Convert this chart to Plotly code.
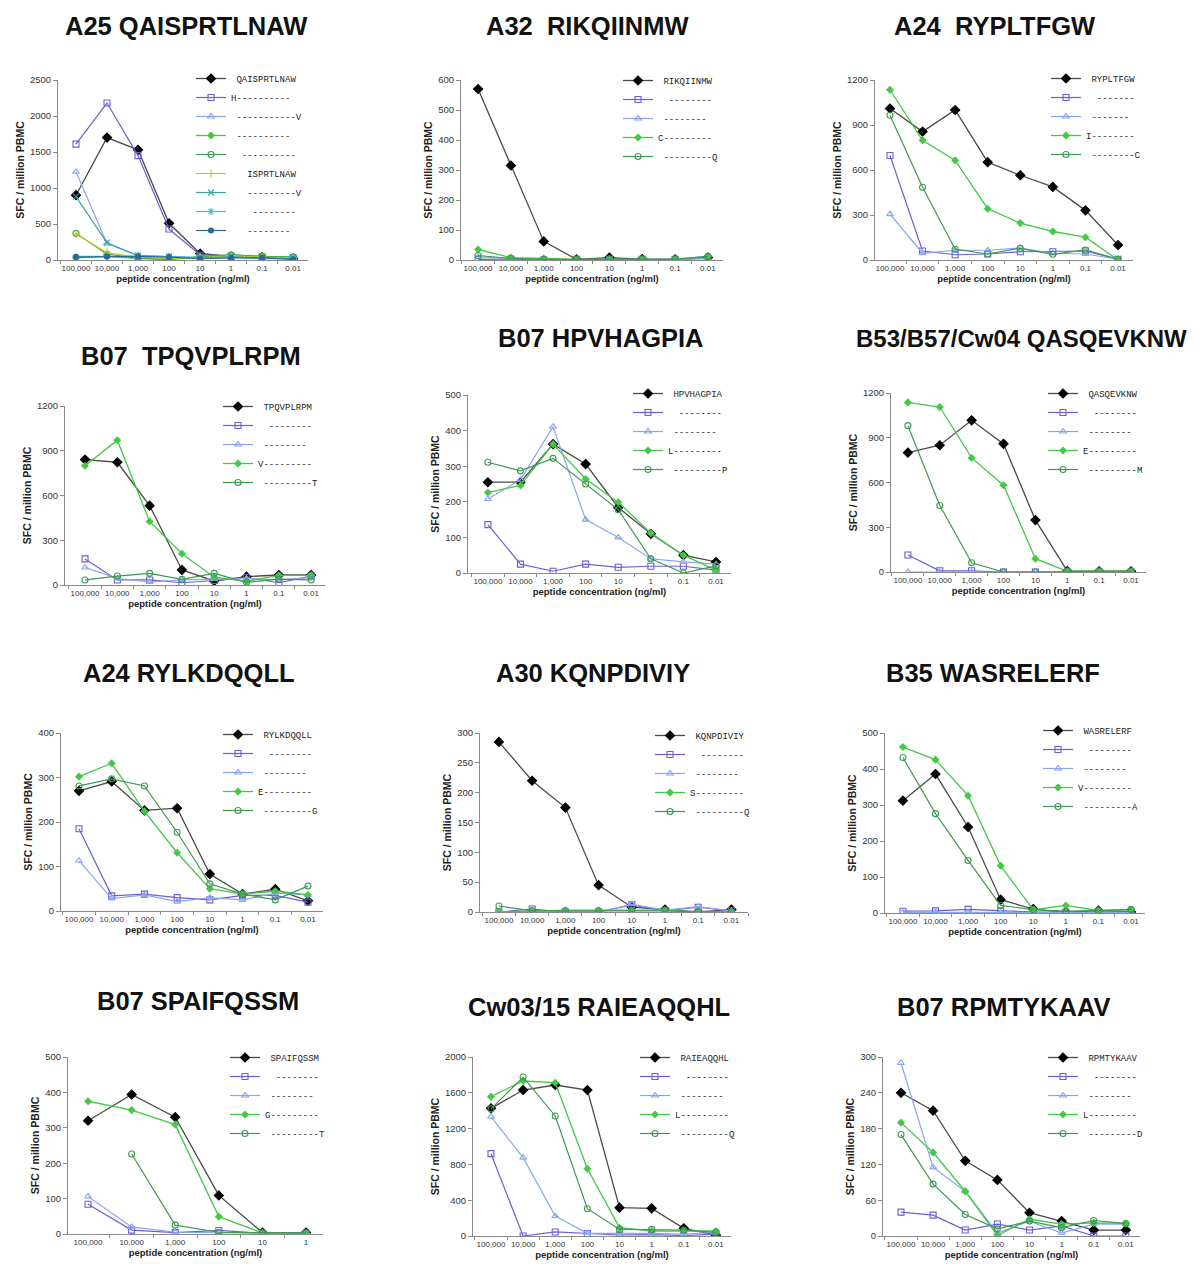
import plotly.graph_objects as go

# ---------------- data ----------------
conc8 = ["100,000", "10,000", "1,000", "100", "10", "1", "0.1", "0.01"]
conc6 = ["100,000", "10,000", "1,000", "100", "10", "1"]

titles = ["A25 QAISPRTLNAW", "A32\u00a0 RIKQIINMW", "A24\u00a0 RYPLTFGW",
          "B07\u00a0 TPQVPLRPM", "B07 HPVHAGPIA", "B53/B57/Cw04 QASQEVKNW",
          "A24 RYLKDQQLL", "A30 KQNPDIVIY", "B35 WASRELERF",
          "B07 SPAIFQSSM", "Cw03/15 RAIEAQQHL", "B07 RPMTYKAAV"]

# Panel 1: A25 QAISPRTLNAW (9 series)
a25_names = [" QAISPRTLNAW", "H----------", " -----------V", " ----------", "  ----------",
             "   ISPRTLNAW", "   ---------V", "    --------", "   --------"]
a25_wt = [900, 1700, 1530, 510, 90, 50, 40, 20]
a25_h = [1610, 2180, 1450, 430, 70, 50, 40, 30]
a25_v = [1225, 230, 60, 50, 30, 40, 30, 20]
a25_m4 = [30, 50, 20, 10, 50, 70, 50, 40]
a25_m5 = [370, 80, 30, 10, 40, 70, 50, 40]
a25_isp = [360, 100, 40, 20, 30, 60, 40, 30]
a25_ispv = [880, 240, 60, 50, 30, 40, 30, 20]
a25_m8 = [50, 50, 60, 50, 30, 40, 20, 20]
a25_m9 = [40, 50, 50, 40, 20, 30, 30, 10]

# Panel 2: A32 RIKQIINMW
a32_names = [" RIKQIINMW", "  --------", " --------", "C---------", " ---------Q"]
a32_wt = [570, 315, 62, 2, 8, 3, 2, 8]
a32_m2 = [2, 3, 0, 2, 2, 2, 2, 5]
a32_m3 = [10, 5, 2, 0, 0, 0, 2, 5]
a32_c = [35, 8, 5, 2, 3, 2, 2, 12]
a32_q = [15, 5, 2, 2, 3, 2, 3, 12]

# Panel 3: A24 RYPLTFGW
a24a_names = [" RYPLTFGW", "  -------", " -------", "I--------", " --------C"]
a24a_wt = [1010, 856, 1000, 652, 565, 487, 331, 100]
a24a_m2 = [697, 60, 35, 40, 55, 55, 60, 5]
a24a_m3 = [306, 45, 65, 65, 80, 45, 40, 5]
a24a_i = [1135, 798, 664, 342, 246, 190, 152, 0]
a24a_c = [965, 485, 72, 40, 78, 38, 67, 5]

# Panel 4: B07 TPQVPLRPM
b07a_names = [" TPQVPLRPM", "  --------", " --------", "V---------", " ---------T"]
b07a_wt = [841, 823, 532, 101, 27, 56, 67, 67]
b07a_m2 = [175, 34, 34, 15, 30, 50, 15, 60]
b07a_m3 = [117, 45, 20, 35, 40, 45, 35, 50]
b07a_v = [800, 971, 426, 209, 52, 25, 65, 65]
b07a_t = [34, 60, 78, 38, 78, 18, 40, 34]

# Panel 5: B07 HPVHAGPIA
b07b_names = [" HPVHAGPIA", "  --------", " --------", "L---------", " ---------P"]
b07b_wt = [255, 255, 362, 306, 184, 110, 50, 31]
b07b_m2 = [136, 25, 5, 25, 16, 19, 19, 8]
b07b_m3 = [208, 262, 411, 150, 100, 40, 31, 25]
b07b_l = [226, 246, 362, 264, 199, 112, 50, 8]
b07b_p = [311, 287, 322, 250, 178, 40, 0, 20]

# Panel 6: B53/B57/Cw04 QASQEVKNW
b53_names = [" QASQEVKNW", "  --------", " --------", "E---------", " ---------M"]
b53_wt = [800, 850, 1017, 859, 348, 7, 5, 5]
b53_m2 = [114, 8, 8, 0, 0, 0, 0, 0]
b53_m3 = [0, 0, 0, 0, 0, 0, 0, 0]
b53_e = [1137, 1106, 765, 582, 89, 5, 5, 5]
b53_m = [981, 446, 62, 0, 0, 5, 5, 5]

# Panel 7: A24 RYLKDQQLL
a24b_names = [" RYLKDQQLL", "  --------", " --------", "E---------", " ---------G"]
a24b_wt = [270, 291, 226, 231, 83, 38, 49, 23]
a24b_m2 = [185, 34, 38, 30, 25, 35, 35, 20]
a24b_m3 = [113, 28, 36, 21, 30, 25, 40, 36]
a24b_e = [302, 332, 224, 131, 50, 38, 45, 36]
a24b_g = [281, 297, 281, 177, 61, 38, 25, 56]

# Panel 8: A30 KQNPDIVIY
a30_names = [" KQNPDIVIY", "  --------", " --------", "S---------", " ---------Q"]
a30_wt = [285, 220, 175, 45, 8, 4, 0, 4]
a30_m2 = [0, 5, 0, 0, 12, 2, 8, 2]
a30_m3 = [0, 0, 0, 0, 13, 3, 9, 2]
a30_s = [0, 2, 3, 3, 3, 3, 0, 0]
a30_q = [10, 2, 2, 2, 2, 2, 0, 0]

# Panel 9: B35 WASRELERF
b35_names = [" WASRELERF", "  --------", " --------", "V---------", " ---------A"]
b35_wt = [312, 386, 239, 37, 11, 2, 7, 3]
b35_m2 = [5, 6, 10, 6, 3, 2, 2, 3]
b35_m3 = [2, 3, 2, 2, 2, 2, 2, 2]
b35_v = [461, 426, 326, 131, 9, 21, 7, 9]
b35_a = [432, 276, 146, 21, 9, 5, 7, 10]

# Panel 10: B07 SPAIFQSSM (6 concentrations)
b07c_names = [" SPAIFQSSM", "  --------", " --------", "G---------", " ---------T"]
b07c_wt = [320, 394, 330, 109, 4, 4]
b07c_m2 = [84, 11, 4, 10, 2, 2]
b07c_m3 = [106, 20, 5, 3, 2, 2]
b07c_g = [375, 350, 309, 49, 3, 2]
b07c_t = [None, 226, 25, 5, 3, 3]

# Panel 11: Cw03/15 RAIEAQQHL
cw03_names = [" RAIEAQQHL", "  --------", " --------", "L---------", " ---------Q"]
cw03_wt = [1426, 1631, 1687, 1631, 317, 309, 86, 11]
cw03_m2 = [920, 0, 45, 26, 11, 15, 5, 20]
cw03_m3 = [1333, 875, 223, 30, 30, 30, 20, 40]
cw03_l = [1557, 1732, 1713, 752, 93, 56, 56, 56]
cw03_q = [1420, 1776, 1341, 305, 74, 74, 67, 40]

# Panel 12: B07 RPMTYKAAV
b07d_names = [" RPMTYKAAV", "  --------", " --------", "L---------", " ---------D"]
b07d_wt = [240, 210, 126, 94, 39, 25, 10, 10]
b07d_m2 = [40, 35, 10, 20, 10, 17, 0, 0]
b07d_m3 = [290, 115, 75, 5, 25, 5, 20, 20]
b07d_l = [190, 140, 75, 1, 28, 20, 22, 21]
b07d_d = [170, 87, 36, 12, 25, 14, 26, 21]

y_max = [2500, 600, 1200, 1200, 500, 1200, 400, 300, 500, 500, 2000, 300]
y_dtick = [500, 100, 300, 300, 100, 300, 100, 50, 100, 100, 400, 60]

# ---------------- styles / layout geometry ----------------
STY = {
    "wt": dict(symbol="diamond", size=7, color="#000000", line="#4a4a4a", lw=1.3),
    "sq": dict(symbol="square-open", size=6, color="#6b5fd8", line="#6b5fd8", lw=1.2),
    "tri": dict(symbol="triangle-up-open", size=6, color="#8aa6f0", line="#8aa6f0", lw=1.2),
    "grn": dict(symbol="diamond", size=5, color="#45c845", line="#45c845", lw=1.3),
    "circ": dict(symbol="circle-open", size=6, color="#3c9a52", line="#3c9a52", lw=1.2),
    "ylw": dict(symbol="cross-thin-open", size=6, color="#b8cc2c", line="#b8cc2c", lw=1.2),
    "teal": dict(symbol="x-thin-open", size=6, color="#3aa3a3", line="#3aa3a3", lw=1.2),
    "cyan": dict(symbol="asterisk-open", size=6, color="#34c3dc", line="#34c3dc", lw=1.2),
    "dblue": dict(symbol="circle", size=5, color="#2e6797", line="#2e6797", lw=1.2),
}
STD5 = ["wt", "sq", "tri", "grn", "circ"]

panels = [
    (conc8, a25_names, [a25_wt, a25_h, a25_v, a25_m4, a25_m5, a25_isp, a25_ispv, a25_m8, a25_m9],
     ["wt", "sq", "tri", "grn", "circ", "ylw", "teal", "cyan", "dblue"]),
    (conc8, a32_names, [a32_wt, a32_m2, a32_m3, a32_c, a32_q], STD5),
    (conc8, a24a_names, [a24a_wt, a24a_m2, a24a_m3, a24a_i, a24a_c], STD5),
    (conc8, b07a_names, [b07a_wt, b07a_m2, b07a_m3, b07a_v, b07a_t], STD5),
    (conc8, b07b_names, [b07b_wt, b07b_m2, b07b_m3, b07b_l, b07b_p], STD5),
    (conc8, b53_names, [b53_wt, b53_m2, b53_m3, b53_e, b53_m], STD5),
    (conc8, a24b_names, [a24b_wt, a24b_m2, a24b_m3, a24b_e, a24b_g], STD5),
    (conc8, a30_names, [a30_wt, a30_m2, a30_m3, a30_s, a30_q], STD5),
    (conc8, b35_names, [b35_wt, b35_m2, b35_m3, b35_v, b35_a], STD5),
    (conc6, b07c_names, [b07c_wt, b07c_m2, b07c_m3, b07c_g, b07c_t], STD5),
    (conc8, cw03_names, [cw03_wt, cw03_m2, cw03_m3, cw03_l, cw03_q], STD5),
    (conc8, b07d_names, [b07d_wt, b07d_m2, b07d_m3, b07d_l, b07d_d], STD5),
]

W, H = 1200, 1264
# (x0, x1, ytop, ybottom) in pixels, plus category range
geom = [
    (50, 300, 72, 252, -0.58, 7.48),
    (453, 715, 72, 252, -0.52, 7.46),
    (867, 1125, 72, 252, -0.46, 7.46),
    (57, 317, 398, 577, -0.62, 7.43),
    (460, 723, 387, 565, -0.61, 7.46),
    (883, 1138, 385, 564, -0.53, 7.47),
    (53, 315, 725, 903, -0.55, 7.46),
    (472, 740, 725, 904, -0.57, 7.50),
    (877, 1137, 725, 905, -0.55, 7.43),
    (60, 315, 1049, 1226, -0.46, 5.39),
    (465, 723, 1049, 1228, -0.56, 7.47),
    (875, 1132, 1049, 1228, -0.56, 7.44),
]
title_pos = [(178, 18), (580, 18), (987, 18), (183, 348), (592, 330), (1013, 330),
             (181, 665), (585, 665), (985, 665), (190, 993), (591, 999), (995, 999)]
title_size = [25.5, 25.5, 25.5, 25.5, 25.5, 24, 25.5, 25.5, 25.5, 25.5, 25.5, 25.5]
legend_pos = [(203, 68), (630, 70), (1058, 68), (230, 396), (640, 383), (1055, 383),
              (230, 724), (662, 725), (1050, 720), (237, 1047), (647, 1047), (1055, 1047)]

fig = go.Figure()
layout = dict(
    width=W, height=H, margin=dict(l=0, r=0, t=0, b=0, autoexpand=False),
    paper_bgcolor="white", plot_bgcolor="white",
    font=dict(family="Liberation Sans, Arial, sans-serif", color="#222"),
    annotations=[],
)

AX_COL = "#8a8a8a"
for i, (cats, names, series, styles) in enumerate(panels):
    k = i + 1
    xa = "x" if k == 1 else f"x{k}"
    ya = "y" if k == 1 else f"y{k}"
    lg = "legend" if k == 1 else f"legend{k}"
    for name, vals, sk in zip(names, series, styles):
        s = STY[sk]
        fig.add_trace(go.Scatter(
            x=cats, y=vals, xaxis=xa, yaxis=ya, legend=lg,
            name=name.replace(" ", "\u00a0"), mode="lines+markers",
            line=dict(color=s["line"], width=s["lw"]),
            marker=dict(symbol=s["symbol"], size=s["size"], color=s["color"],
                        line=dict(color=s["color"], width=1.1)),
            connectgaps=False,
        ))
    x0, x1, yt, yb, r0, r1 = geom[i]
    layout["xaxis" if k == 1 else f"xaxis{k}"] = dict(
        domain=[x0 / W, x1 / W], anchor=ya, type="category",
        categoryorder="array", categoryarray=cats, range=[r0, r1],
        showline=True, linecolor=AX_COL, linewidth=1, showgrid=False, zeroline=False,
        ticks="outside", tickson="boundaries", ticklen=3, tickcolor=AX_COL,
        tickangle=0, tickfont=dict(size=8, color="#333"),
        title=dict(text="<b>peptide concentration (ng/ml)</b>", font=dict(size=9.5, color="#222"), standoff=3),
    )
    layout["yaxis" if k == 1 else f"yaxis{k}"] = dict(
        domain=[1 - yb / H, 1 - yt / H], anchor=xa, range=[0, y_max[i]], dtick=y_dtick[i],
        showline=True, linecolor=AX_COL, linewidth=1, showgrid=False, zeroline=False,
        ticks="outside", ticklen=4, tickcolor=AX_COL,
        tickfont=dict(size=9.5, color="#333"),
        title=dict(text="<b>SFC / million PBMC</b>", font=dict(size=10.5, color="#222"), standoff=3),
    )
    lx, ly = legend_pos[i]
    layout[lg] = dict(
        x=(lx - 20) / W, y=1 - (ly - 12) / H, xanchor="left", yanchor="top",
        bgcolor="rgba(0,0,0,0)", borderwidth=0, itemwidth=30,
        font=dict(family="Liberation Mono, Courier New, monospace", size=9, color="#222"),
    )
    tx, ty = title_pos[i]
    layout["annotations"].append(dict(
        text=f"<b>{titles[i]}</b>", x=tx / W, y=1 - ty / H, xref="paper", yref="paper",
        xanchor="center", yanchor="middle", showarrow=False,
        font=dict(size=title_size[i], family="Liberation Sans, Arial, sans-serif", color="#111"),
    ))

fig.update_layout(**layout)
fig.write_html("out.html")
